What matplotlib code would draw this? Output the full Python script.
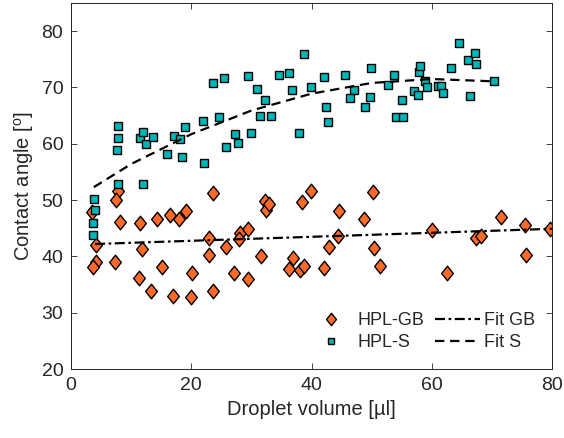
import matplotlib
matplotlib.use("Agg")
import matplotlib.pyplot as plt
from matplotlib.path import Path

plt.rcParams['font.family'] = ['Liberation Sans', 'DejaVu Sans']
plt.rcParams['mathtext.fontset'] = 'custom'
plt.rcParams['mathtext.rm'] = 'Liberation Sans'
plt.rcParams['mathtext.it'] = 'Liberation Sans'

# HPL-GB (diamonds)
gb_x = [3.5, 4.1, 4.1, 3.7, 7.9, 7.5, 8.2, 7.3, 11.5, 11.8, 11.3, 13.3, 14.3, 15.2,
        16.4, 17.0, 17.9, 19.2, 19.9, 20.1, 23.6, 23.0, 23.0, 23.6, 25.7, 27.1, 28.1,
        28.0, 29.5, 29.5, 31.6, 32.3, 32.4, 32.9, 36.9, 36.2, 38.1, 38.7, 38.4, 39.9,
        42.0, 42.9, 44.4, 44.6, 48.7, 50.2, 50.4, 51.4, 60.1, 62.6, 67.4, 68.2, 71.6,
        75.5, 75.7, 79.6]
gb_y = [47.8, 42.1, 39.0, 38.2, 51.6, 50.1, 46.1, 39.0, 45.9, 41.3, 36.1, 33.8, 46.7, 38.2,
        47.3, 33.0, 46.7, 48.1, 32.8, 37.1, 51.2, 43.2, 40.2, 33.9, 41.7, 37.1, 44.1,
        43.0, 44.8, 36.0, 40.1, 49.9, 48.3, 49.3, 39.8, 37.7, 37.6, 38.3, 49.6, 51.6,
        38.0, 41.7, 43.6, 48.0, 46.7, 51.5, 41.5, 38.3, 44.7, 37.0, 43.3, 43.7, 47.0,
        45.5, 40.3, 44.9]

# HPL-S (squares)
s_x = [3.8, 4.0, 3.6, 3.65, 7.8, 7.9, 7.6, 7.9, 11.9, 11.5, 12.0, 12.4, 13.7, 16.0, 17.1,
       18.2, 18.5, 18.9, 22.0, 22.1, 23.6, 25.5, 24.6, 25.8, 27.2, 27.7, 29.9, 29.5, 30.9,
       32.3, 31.4, 33.2, 34.6, 36.3, 36.8, 38.0, 38.8, 39.9, 42.1, 42.4, 42.8, 45.6, 47.1,
       46.4, 48.9, 49.7, 49.9, 52.8, 53.8, 55.1, 54.0, 55.2, 57.0, 57.7, 57.9, 58.0, 58.9,
       59.2, 61.1, 61.6, 61.8, 63.2, 64.5, 66.1, 67.2, 67.4, 66.3, 70.4]
s_y = [50.2, 48.2, 46.0, 43.8, 63.1, 61.1, 58.9, 52.8, 52.8, 61.1, 62.1, 59.9, 61.2, 58.2, 61.3,
       60.9, 57.7, 62.9, 64.1, 56.5, 70.8, 71.6, 64.7, 59.5, 61.7, 60.2, 61.9, 72.0, 69.7,
       67.7, 64.9, 64.9, 72.3, 72.5, 69.6, 61.9, 75.9, 70.1, 71.8, 66.6, 63.8, 72.2, 69.5,
       68.2, 66.6, 68.3, 73.4, 70.5, 72.2, 67.8, 64.7, 64.8, 69.4, 68.6, 72.8, 73.8, 71.2,
       70.1, 70.2, 70.2, 69.0, 73.5, 77.9, 74.8, 76.2, 74.1, 68.4, 71.2]

# Fit lines
fit_gb_x = [4.0, 80.0]
fit_gb_y = [42.2, 44.9]
fit_s_x = [3.8, 10, 20, 30, 40, 50, 60, 70]
fit_s_y = [52.3, 56.4, 61.7, 65.9, 68.9, 70.8, 71.5, 71.1]

xticks = [0, 20, 40, 60, 80]
yticks = [20, 30, 40, 50, 60, 70, 80]

orange = '#FF6A28'
teal = '#00B5B8'
axcol = (0.15, 0.15, 0.15)

diamond = Path([(0, -1), (0.8, 0), (0, 1), (-0.8, 0), (0, -1)],
               [Path.MOVETO, Path.LINETO, Path.LINETO, Path.LINETO, Path.CLOSEPOLY])

fig = plt.figure(figsize=(5.64, 4.38), dpi=100)
ax = fig.add_axes([71 / 564, 69 / 438, 481 / 564, 366 / 438])

h1, = ax.plot(gb_x, gb_y, linestyle='none', marker=diamond, markersize=10.5,
              markerfacecolor=orange, markeredgecolor='black', markeredgewidth=1.0,
              label='HPL-GB')
h2, = ax.plot(s_x, s_y, linestyle='none', marker='s', markersize=5.2,
              markerfacecolor=teal, markeredgecolor='black', markeredgewidth=1.0,
              label='HPL-S')
h3, = ax.plot(fit_gb_x, fit_gb_y, color='black', lw=1.6,
              dashes=(4.5, 1.6, 1.2, 1.6), label='Fit GB')
h4, = ax.plot(fit_s_x, fit_s_y, color='black', lw=1.6, dashes=(4.2, 2.6), label='Fit S')

ax.set_xlim(0, 80)
ax.set_ylim(20, 85)
ax.set_xticks(xticks)
ax.set_yticks(yticks)
ax.tick_params(axis='both', direction='in', length=4, width=0.6, colors=axcol,
               labelsize=14, top=True, right=True)
ax.tick_params(axis='y', pad=5.5)
ax.tick_params(axis='x', pad=5.5)
for sp in ax.spines.values():
    sp.set_color(axcol)
    sp.set_linewidth(0.7)

ax.set_xlabel('Droplet volume [µl]', fontsize=14.5, color=axcol, labelpad=4.5)
ax.set_ylabel(r'Contact angle [$^{\mathrm{o}}$]', fontsize=14.5, color=axcol, labelpad=4)

leg = ax.legend(handles=[h1, h2, h3, h4], ncol=2, frameon=False, fontsize=13,
                loc='upper left', bbox_to_anchor=(0.494, 0.155), borderaxespad=0,
                borderpad=0, handlelength=2.5, handletextpad=0.2, columnspacing=0.6,
                labelspacing=0.28, markerscale=0.85)
for t in leg.get_texts():
    t.set_color(axcol)

fig.savefig('out.png', dpi=100)
